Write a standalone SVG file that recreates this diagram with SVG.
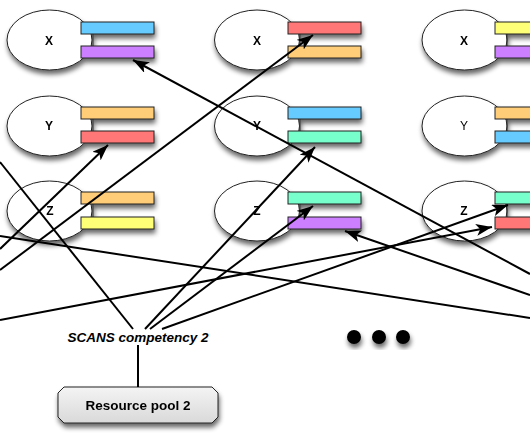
<svg xmlns="http://www.w3.org/2000/svg" width="530" height="443" viewBox="0 0 530 443">
  <defs>
    <filter id="sh" x="-20%" y="-20%" width="150%" height="160%">
      <feGaussianBlur in="SourceAlpha" stdDeviation="2.5"/>
      <feOffset dx="1" dy="4" result="b"/>
      <feComponentTransfer><feFuncA type="linear" slope="0.6"/></feComponentTransfer>
      <feMerge><feMergeNode/><feMergeNode in="SourceGraphic"/></feMerge>
    </filter>
    <linearGradient id="gp" x1="0" y1="0" x2="0" y2="1">
      <stop offset="0" stop-color="#f4f4f4"/>
      <stop offset="1" stop-color="#d9d9d9"/>
    </linearGradient>
    <marker id="arr" markerUnits="userSpaceOnUse" viewBox="0 0 16 12" markerWidth="16" markerHeight="12" refX="16" refY="6" orient="auto">
      <path d="M0,0 L16,6 L0,12 L4,6 Z" fill="#000"/>
    </marker>
  </defs>
  <style>
    .ell { fill: #ffffff; stroke: #222; stroke-width: 1; }
    .bar { stroke: #222; stroke-width: 1; }
    .tie { stroke: #333; stroke-width: 1; fill: none; }
    .lbl { font-family: "Liberation Sans", Arial, sans-serif; font-size: 12px; font-weight: bold; text-anchor: middle; fill: #000; }
    .lblr { font-family: "Liberation Sans", Arial, sans-serif; font-size: 12px; text-anchor: middle; fill: #000; }
    .blue { fill: #66ccff; }
    .purple { fill: #cc80ff; }
    .orange { fill: #ffcc77; }
    .red { fill: #ff7777; }
    .yellow { fill: #ffff77; }
    .teal { fill: #77ffcc; }
    .conn { stroke: #000; stroke-width: 2; fill: none; }
  </style>
  <rect width="530" height="443" fill="#ffffff"/>

  <!-- Column 1 -->
  <g id="c1x" filter="url(#sh)">
    <ellipse class="ell" cx="49.5" cy="40" rx="42.5" ry="30"/>
    <line class="tie" x1="93" y1="34" x2="93" y2="46"/>
    <rect class="bar blue" x="81" y="22" width="73" height="12"/>
    <rect class="bar purple" x="81" y="46" width="73" height="12"/>
    <text class="lbl" x="49" y="45">X</text>
  </g>
  <g id="c1y" filter="url(#sh)">
    <ellipse class="ell" cx="49.5" cy="126" rx="42.5" ry="30"/>
    <line class="tie" x1="93" y1="119" x2="93" y2="131"/>
    <rect class="bar orange" x="81" y="107" width="73" height="12"/>
    <rect class="bar red" x="81" y="131" width="73" height="12"/>
    <text class="lbl" x="49" y="130">Y</text>
  </g>
  <g id="c1z" filter="url(#sh)">
    <ellipse class="ell" cx="49.5" cy="211" rx="42.5" ry="30"/>
    <line class="tie" x1="93" y1="204" x2="93" y2="217"/>
    <rect class="bar orange" x="81" y="192" width="73" height="12"/>
    <rect class="bar yellow" x="81" y="217" width="73" height="12"/>
    <text class="lbl" x="50" y="215">Z</text>
  </g>

  <!-- Column 2 -->
  <g id="c2x" filter="url(#sh)">
    <ellipse class="ell" cx="257" cy="40" rx="42.5" ry="30"/>
    <line class="tie" x1="300" y1="34" x2="300" y2="46"/>
    <rect class="bar red" x="288" y="22" width="73" height="12"/>
    <rect class="bar orange" x="288" y="46" width="73" height="12"/>
    <text class="lbl" x="257" y="45">X</text>
  </g>
  <g id="c2y" filter="url(#sh)">
    <ellipse class="ell" cx="257" cy="126" rx="42.5" ry="30"/>
    <line class="tie" x1="300" y1="119" x2="300" y2="131"/>
    <rect class="bar blue" x="288" y="107" width="73" height="12"/>
    <rect class="bar teal" x="288" y="131" width="73" height="12"/>
    <text class="lbl" x="257" y="130">Y</text>
  </g>
  <g id="c2z" filter="url(#sh)">
    <ellipse class="ell" cx="257" cy="211" rx="42.5" ry="30"/>
    <line class="tie" x1="300" y1="204" x2="300" y2="217"/>
    <rect class="bar teal" x="288" y="192" width="73" height="12"/>
    <rect class="bar purple" x="288" y="217" width="73" height="12"/>
    <text class="lbl" x="257" y="215">Z</text>
  </g>

  <!-- Column 3 -->
  <g id="c3x" filter="url(#sh)">
    <ellipse class="ell" cx="464.5" cy="40" rx="42.5" ry="30"/>
    <line class="tie" x1="507" y1="34" x2="507" y2="46"/>
    <rect class="bar yellow" x="495" y="22" width="73" height="12"/>
    <rect class="bar purple" x="495" y="46" width="73" height="12"/>
    <text class="lbl" x="464" y="45">X</text>
  </g>
  <g id="c3y" filter="url(#sh)">
    <ellipse class="ell" cx="464.5" cy="126" rx="42.5" ry="30"/>
    <line class="tie" x1="507" y1="119" x2="507" y2="131"/>
    <rect class="bar orange" x="495" y="107" width="73" height="12"/>
    <rect class="bar blue" x="495" y="131" width="73" height="12"/>
    <text class="lblr" x="464" y="130">Y</text>
  </g>
  <g id="c3z" filter="url(#sh)">
    <ellipse class="ell" cx="464.5" cy="211" rx="42.5" ry="30"/>
    <line class="tie" x1="507" y1="204" x2="507" y2="217"/>
    <rect class="bar teal" x="495" y="192" width="73" height="12"/>
    <rect class="bar red" x="495" y="217" width="73" height="12"/>
    <text class="lbl" x="464" y="215">Z</text>
  </g>

  <!-- Competency label -->
  <g id="scans2">
    <text x="138" y="342" font-family="Liberation Sans, Arial, sans-serif" font-size="13.5" font-weight="bold" font-style="italic" text-anchor="middle" fill="#000">SCANS competency 2</text>
  </g>

  <!-- Resource pool -->
  <g id="pool2" filter="url(#sh)">
    <polygon points="64,387 212,387 218,393 218,417 212,423 64,423 58,417 58,393" fill="url(#gp)" stroke="#222" stroke-width="1"/>
    <text x="138" y="410" font-family="Liberation Sans, Arial, sans-serif" font-size="13.5" font-weight="bold" text-anchor="middle" fill="#000">Resource pool 2</text>
  </g>

  <!-- Ellipsis dots -->
  <g id="dots" filter="url(#sh)">
    <circle cx="354" cy="337" r="7" fill="#000"/>
    <circle cx="379" cy="337" r="7" fill="#000"/>
    <circle cx="403" cy="337" r="7" fill="#000"/>
  </g>

  <!-- Connectors -->
  <g id="connectors" class="conn">
    <path class="conn" d="M530,274 L133,60" marker-end="url(#arr)"/>
    <path class="conn" d="M0,270 L313,35" marker-end="url(#arr)"/>
    <path class="conn" d="M0,249 L108,145" marker-end="url(#arr)"/>
    <path class="conn" d="M133,329 L0,162"/>
    <path class="conn" d="M0,236 L530,318"/>
    <path class="conn" d="M0,320 L492,227" marker-end="url(#arr)"/>
    <path class="conn" d="M162,329 L508,205" marker-end="url(#arr)"/>
    <path class="conn" d="M145,329 L315,147" marker-end="url(#arr)"/>
    <path class="conn" d="M150,329 L313,206" marker-end="url(#arr)"/>
    <path class="conn" d="M530,295 L345,231" marker-end="url(#arr)"/>
    <path class="conn" d="M138,345 L138,387"/>
  </g>
</svg>
